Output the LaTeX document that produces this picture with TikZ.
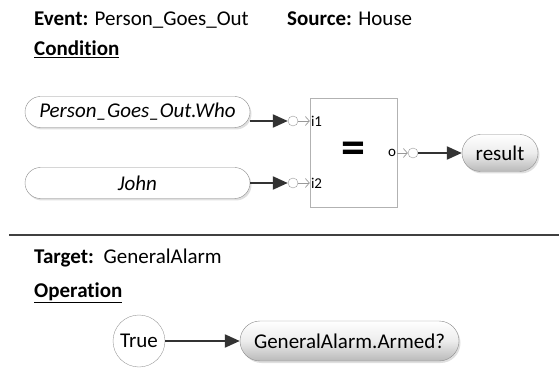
\documentclass[tikz,border=0pt]{standalone}
\usepackage{fontspec}
\setmainfont{Carlito}[Ligatures={NoCommon}]
\usepackage[x11names]{xcolor}
\usetikzlibrary{arrows.meta,shapes.misc,shadows}

\tikzset{
  capsule/.style={rounded rectangle, draw=gray!90, fill=white, inner sep=0pt,
    minimum height=31pt, drop shadow={opacity=0.25, shadow xshift=1.5pt, shadow yshift=-2pt}},
  pill/.style={capsule, top color=white, bottom color=gray!55, middle color=gray!15},
  port/.style={circle, draw=gray!80, fill=white, minimum size=10pt, inner sep=0pt},
  feed/.style={draw=black!80, line width=2.2pt, -{Triangle[length=15pt,width=13pt]}},
  pin/.style={draw=gray!80, line width=0.7pt, -{Straight Barb[length=4pt,width=9pt]}},
  lbl/.style={anchor=base west, inner sep=0pt},
  small/.style={font=\fontsize{15}{17}\selectfont, inner sep=1pt}
}

\begin{document}
\begin{tikzpicture}[x=1pt,y=-1pt,font=\fontsize{21}{25}\selectfont]
  \useasboundingbox (0,0) rectangle (559,371);

  % header of the rule
  \node[lbl] (event) at (34,26) {\textbf{Event:} Person\_Goes\_Out};
  \node[lbl] (source) at (287,26) {\textbf{Source:} House};
  \node[lbl] (cond) at (34,56) {\textbf{\underline{Condition}}};

  % operands
  \node[capsule, minimum width=225pt, font=\fontsize{21}{25}\selectfont\itshape] (who) at (137.5,112) {Person\_Goes\_Out.Who};
  \node[capsule, minimum width=225pt, font=\fontsize{21}{25}\selectfont\itshape] (john) at (137.5,183) {John};

  % compare block
  \node[draw=gray!60, minimum width=87pt, minimum height=109pt, inner sep=0pt] (cmp) at (353.5,152.5)
    {\fontsize{48}{48}\selectfont\bfseries =};

  % input ports
  \foreach \n/\src/\y in {1/who/121, 2/john/183}
  {
    \node[port] (in\n) at (293,\y) {};
    \node[small, anchor=west] (lab\n) at (cmp.west |- in\n) {i\n};
    \draw[feed] (in\n -| \src.east) -- (in\n);
    \draw[pin] (in\n) -- (in\n -| cmp.west);
  }

  % output port
  \node[port] (out) at (413,153) {};
  \node[small, anchor=east] (olab) at (cmp.east |- out) {o};
  \draw[pin] (out -| cmp.east) -- (out.west);
  \node[pill, minimum width=76pt, minimum height=37pt] (result) at (500,153) {result};
  \draw[feed] (out) -- (result);

  % separator
  \draw[line width=2pt, black!75] (9,235) -- (559,235);

  % action part
  \node[lbl] (target) at (34,263) {\textbf{Target:}\, GeneralAlarm};
  \node[lbl] (oper) at (34,297) {\textbf{\underline{Operation}}};
  \node[circle, draw=gray!80, fill=white, minimum size=52pt, inner sep=0pt] (true) at (139,341) {True};
  \node[pill, minimum width=219pt, minimum height=40pt] (armed) at (349.5,341) {GeneralAlarm.Armed?};
  \draw[feed] (true) -- (armed);
\end{tikzpicture}
\end{document}
